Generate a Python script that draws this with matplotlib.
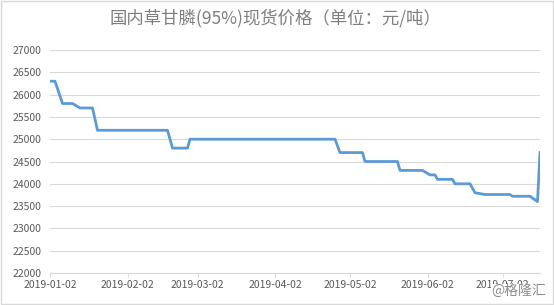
import matplotlib
matplotlib.use("Agg")
import matplotlib.pyplot as plt
import matplotlib.dates as mdates
import pandas as pd

# change points (price in yuan / ton)
dates = ["2019-01-02", "2019-01-04", "2019-01-07", "2019-01-11", "2019-01-14",
         "2019-01-19", "2019-01-21", "2019-02-18", "2019-02-20", "2019-02-26",
         "2019-02-27", "2019-04-26", "2019-04-28", "2019-05-07", "2019-05-08",
         "2019-05-21", "2019-05-22", "2019-05-31", "2019-06-03", "2019-06-05",
         "2019-06-06", "2019-06-12", "2019-06-13", "2019-06-19", "2019-06-21",
         "2019-06-25", "2019-07-05", "2019-07-06", "2019-07-13", "2019-07-16",
         "2019-07-17"]
prices = [26300, 26300, 25800, 25800, 25700,
          25700, 25200, 25200, 24800, 24800,
          25000, 25000, 24700, 24700, 24500,
          24500, 24300, 24300, 24200, 24200,
          24100, 24100, 24000, 24000, 23800,
          23760, 23760, 23720, 23720, 23600,
          24700]
tick_dates = ["2019-01-02", "2019-02-02", "2019-03-02", "2019-04-02",
              "2019-05-02", "2019-06-02", "2019-07-02"]

x = pd.to_datetime(dates)

plt.rcParams['font.family'] = ['Noto Sans CJK SC', 'DejaVu Sans']

fig = plt.figure(figsize=(5.54, 3.05), dpi=100)
ax = fig.add_axes([50 / 554, 1 - 273 / 305, 490 / 554, 223 / 305])

ax.plot(x, prices, color='#5b9bd5', linewidth=2.0, solid_joinstyle='round')

ax.set_ylim(22000, 27000)
ax.set_yticks(range(22000, 27001, 500))
ax.set_xlim(x[0], x[-1])
ax.set_xticks(pd.to_datetime(tick_dates))
ax.xaxis.set_major_formatter(mdates.DateFormatter('%Y-%m-%d'))

ax.grid(axis='y', color='#d9d9d9', linewidth=0.8)
ax.set_axisbelow(True)
for s in ['top', 'right', 'left']:
    ax.spines[s].set_visible(False)
ax.spines['bottom'].set_color('#d9d9d9')
ax.tick_params(axis='y', length=0, labelsize=7.5, labelcolor='#595959', pad=6)
ax.tick_params(axis='x', length=3, color='#d9d9d9', labelsize=7.5, labelcolor='#595959', pad=2)

fig.text(0.497, 0.94, '国内草甘膦(95%)现货价格（单位：元/吨）', ha='center', va='center',
         fontsize=12.5, color='#7f7f7f')
# watermark sits over the last date label, as in the source image
fig.text(0.986, 0.045, '@格隆汇', ha='right', va='center', fontsize=10, color='#8c8c8c',
         zorder=10, bbox=dict(facecolor='white', edgecolor='none', pad=0.5))

# thin frame round the picture
fig.patches.append(plt.Rectangle((0.001, 0.002), 0.997, 0.995, transform=fig.transFigure,
                                 fill=False, edgecolor='#d9d9d9', linewidth=1))

fig.savefig('out.png', dpi=100)
